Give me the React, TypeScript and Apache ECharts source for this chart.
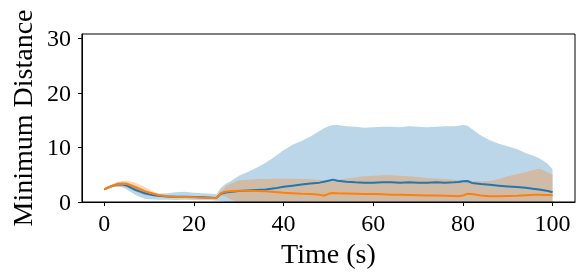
import React, { useEffect, useRef } from "react";
import * as echarts from "echarts";

// time (s)
const time = [0,1,2,3,4,5,6,7,8,9,10,11,12,14,16,18,20,22,24,25,26,27,28,30,32,34,36,38,40,42,44,46,48,49,50,51,52,54,56,58,60,62,64,66,68,70,72,74,76,78,79,80,81,82,84,86,88,90,92,94,96,97,98,99,100];

const blueMean = [2.3,2.7,3.0,3.2,3.2,3.0,2.6,2.2,1.9,1.6,1.4,1.25,1.15,
  1.0,0.95,0.95,0.9,0.85,0.8,
  0.75,1.5,1.75,1.85,
  2.0,2.1,2.2,2.3,2.5,2.8,3.0,3.2,3.4,3.55,
  3.7,3.9,4.1,3.9,
  3.7,3.6,3.55,3.55,3.6,3.6,3.55,3.6,3.55,3.55,3.6,3.55,3.6,
  3.65,3.8,3.85,3.5,
  3.3,3.15,3.0,2.85,2.75,2.6,2.4,
  2.3,2.15,2.0,1.8];

const blueUpper = [2.4,2.9,3.3,3.6,3.7,3.6,3.3,2.9,2.5,2.1,1.8,1.6,1.5,
  1.6,1.8,1.9,1.7,1.6,1.5,
  1.4,2.6,3.3,3.7,
  4.8,5.5,6.3,7.2,8.3,9.5,10.5,11.2,12.0,13.0,
  13.5,13.9,14.1,14.1,
  13.9,13.8,13.6,13.7,13.8,13.8,13.7,13.9,13.8,13.7,13.8,13.9,13.9,
  14.0,14.1,14.0,13.4,
  12.2,11.3,10.7,10.2,9.7,9.0,8.4,
  8.0,7.5,6.9,6.0];

const blueLower = [2.2,2.5,2.7,2.8,2.7,2.3,1.8,1.3,0.9,0.6,0.5,0.45,0.4,
  0.4,0.35,0.4,0.35,0.3,0.3,
  0.25,0.2,0,0,
  0,0,0,0,0,0,0,0,0,0,
  0,0,0,0,
  0,0,0,0,0,0,0,0,0,0,0,0,0,
  0,0,0,0,
  0,0,0,0,0,0,0,
  0,0,0,0];

const orangeMean = [2.3,2.7,3.05,3.25,3.35,3.3,3.05,2.7,2.35,2.0,1.75,1.5,1.3,
  1.05,0.95,0.9,0.85,0.8,0.75,
  0.7,1.6,1.9,1.95,
  2.05,2.05,2.0,1.95,1.85,1.7,1.6,1.5,1.45,1.35,
  1.15,1.5,1.65,1.6,
  1.55,1.5,1.45,1.45,1.4,1.35,1.35,1.3,1.25,1.2,1.2,1.15,1.1,
  1.05,1.2,1.5,1.45,
  1.2,1.05,1.05,1.1,1.15,1.25,1.35,
  1.35,1.3,1.3,1.25];

const orangeUpper = [2.4,2.9,3.35,3.65,3.85,3.9,3.75,3.5,3.15,2.75,2.3,1.9,1.55,
  1.25,1.1,1.05,1.0,0.95,0.9,
  0.85,2.0,2.8,3.3,
  4.0,4.1,4.2,4.2,4.25,4.25,4.25,4.2,4.2,4.1,
  4.0,4.0,4.0,4.1,
  4.3,4.5,4.7,4.8,4.9,4.9,4.8,4.7,4.6,4.4,4.3,4.2,4.1,
  4.0,3.95,3.9,3.85,
  3.8,3.85,4.2,4.7,5.1,5.5,5.9,
  6.1,5.8,5.4,5.0];

const orangeLower = [2.2,2.5,2.75,2.85,2.85,2.7,2.35,1.9,1.55,1.25,1.2,1.1,1.05,
  0.85,0.8,0.75,0.7,0.65,0.6,
  0.55,1.2,1.0,0.5,
  0,0,0,0,0,0,0,0,0,0,
  0,0,0,0,
  0,0,0,0,0,0,0,0,0,0,0,0,0,
  0,0,0,0,
  0,0,0,0,0,0,0,
  0,0,0,0];

const xTicks = [0, 20, 40, 60, 80, 100];
const yTicks = [0, 10, 20, 30];
const X_MIN = -5;
const X_MAX = 105;
const Y_MIN = 0;
const Y_MAX = 30.8;

const FONT = "Times New Roman";

export default function App() {
  const ref = useRef<HTMLDivElement>(null);
  useEffect(() => {
    const chart = echarts.init(ref.current!, null, { renderer: "svg" });
    chart.setOption({
      animation: false,
      grid: { left: 80, right: 10, top: 34, bottom: 77 },
      xAxis: {
        type: "value",
        min: X_MIN,
        max: X_MAX,
        name: "Time (s)",
        nameLocation: "middle",
        nameGap: 34,
        nameTextStyle: { fontFamily: FONT, fontSize: 28, color: "#000" },
        axisLine: { show: true, onZero: false, lineStyle: { color: "#000", width: 1 } },
        axisTick: { show: true, length: 4, customValues: xTicks, lineStyle: { color: "#000" } },
        axisLabel: { customValues: xTicks, margin: 9, fontFamily: FONT, fontSize: 24, color: "#000" },
        splitLine: { show: false },
      },
      yAxis: {
        type: "value",
        min: Y_MIN,
        max: Y_MAX,
        name: "Minimum Distance",
        nameLocation: "middle",
        nameGap: 42,
        nameTextStyle: { fontFamily: FONT, fontSize: 28, color: "#000" },
        axisLine: { show: true, onZero: false, lineStyle: { color: "#000", width: 1 } },
        axisTick: { show: true, length: 4, customValues: yTicks, lineStyle: { color: "#000" } },
        axisLabel: { customValues: yTicks, margin: 11, fontFamily: FONT, fontSize: 24, color: "#000" },
        splitLine: { show: false },
      },
      series: [
        {
          type: "line",
          z: 3,
          showSymbol: false,
          symbol: "none",
          data: time.map((t, i) => [t, blueMean[i]]),
          lineStyle: { color: "#1f77b4", width: 2 },
        },
        {
          type: "line",
          z: 4,
          showSymbol: false,
          symbol: "none",
          data: time.map((t, i) => [t, orangeMean[i]]),
          lineStyle: { color: "#ff7f0e", width: 2 },
        },
      ],
    });

    const toPx = (x: number, y: number) =>
      chart.convertToPixel({ gridIndex: 0 }, [x, y]) as number[];
    const bandPoly = (lo: number[], hi: number[], color: string, z: number) => {
      const pts: number[][] = [];
      for (let i = 0; i < time.length; i++) pts.push(toPx(time[i], hi[i]));
      for (let i = time.length - 1; i >= 0; i--) pts.push(toPx(time[i], lo[i]));
      return { type: "polygon", z, silent: true, shape: { points: pts }, style: { fill: color } };
    };
    const tl = toPx(X_MIN, Y_MAX);
    const br = toPx(X_MAX, Y_MIN);
    chart.setOption({
      graphic: [
        bandPoly(blueLower, blueUpper, "rgba(31,119,180,0.3)", 1),
        bandPoly(orangeLower, orangeUpper, "rgba(255,127,14,0.3)", 2),
        {
          type: "rect",
          z: 10,
          silent: true,
          shape: { x: tl[0], y: tl[1], width: br[0] - tl[0], height: br[1] - tl[1] },
          style: { fill: "none", stroke: "#000", lineWidth: 1 },
        },
      ],
    });
    return () => chart.dispose();
  }, []);
  return (
    <div
      ref={ref}
      style={{ position: "fixed", left: 0, top: 0, width: 585, height: 279 }}
    />
  );
}
